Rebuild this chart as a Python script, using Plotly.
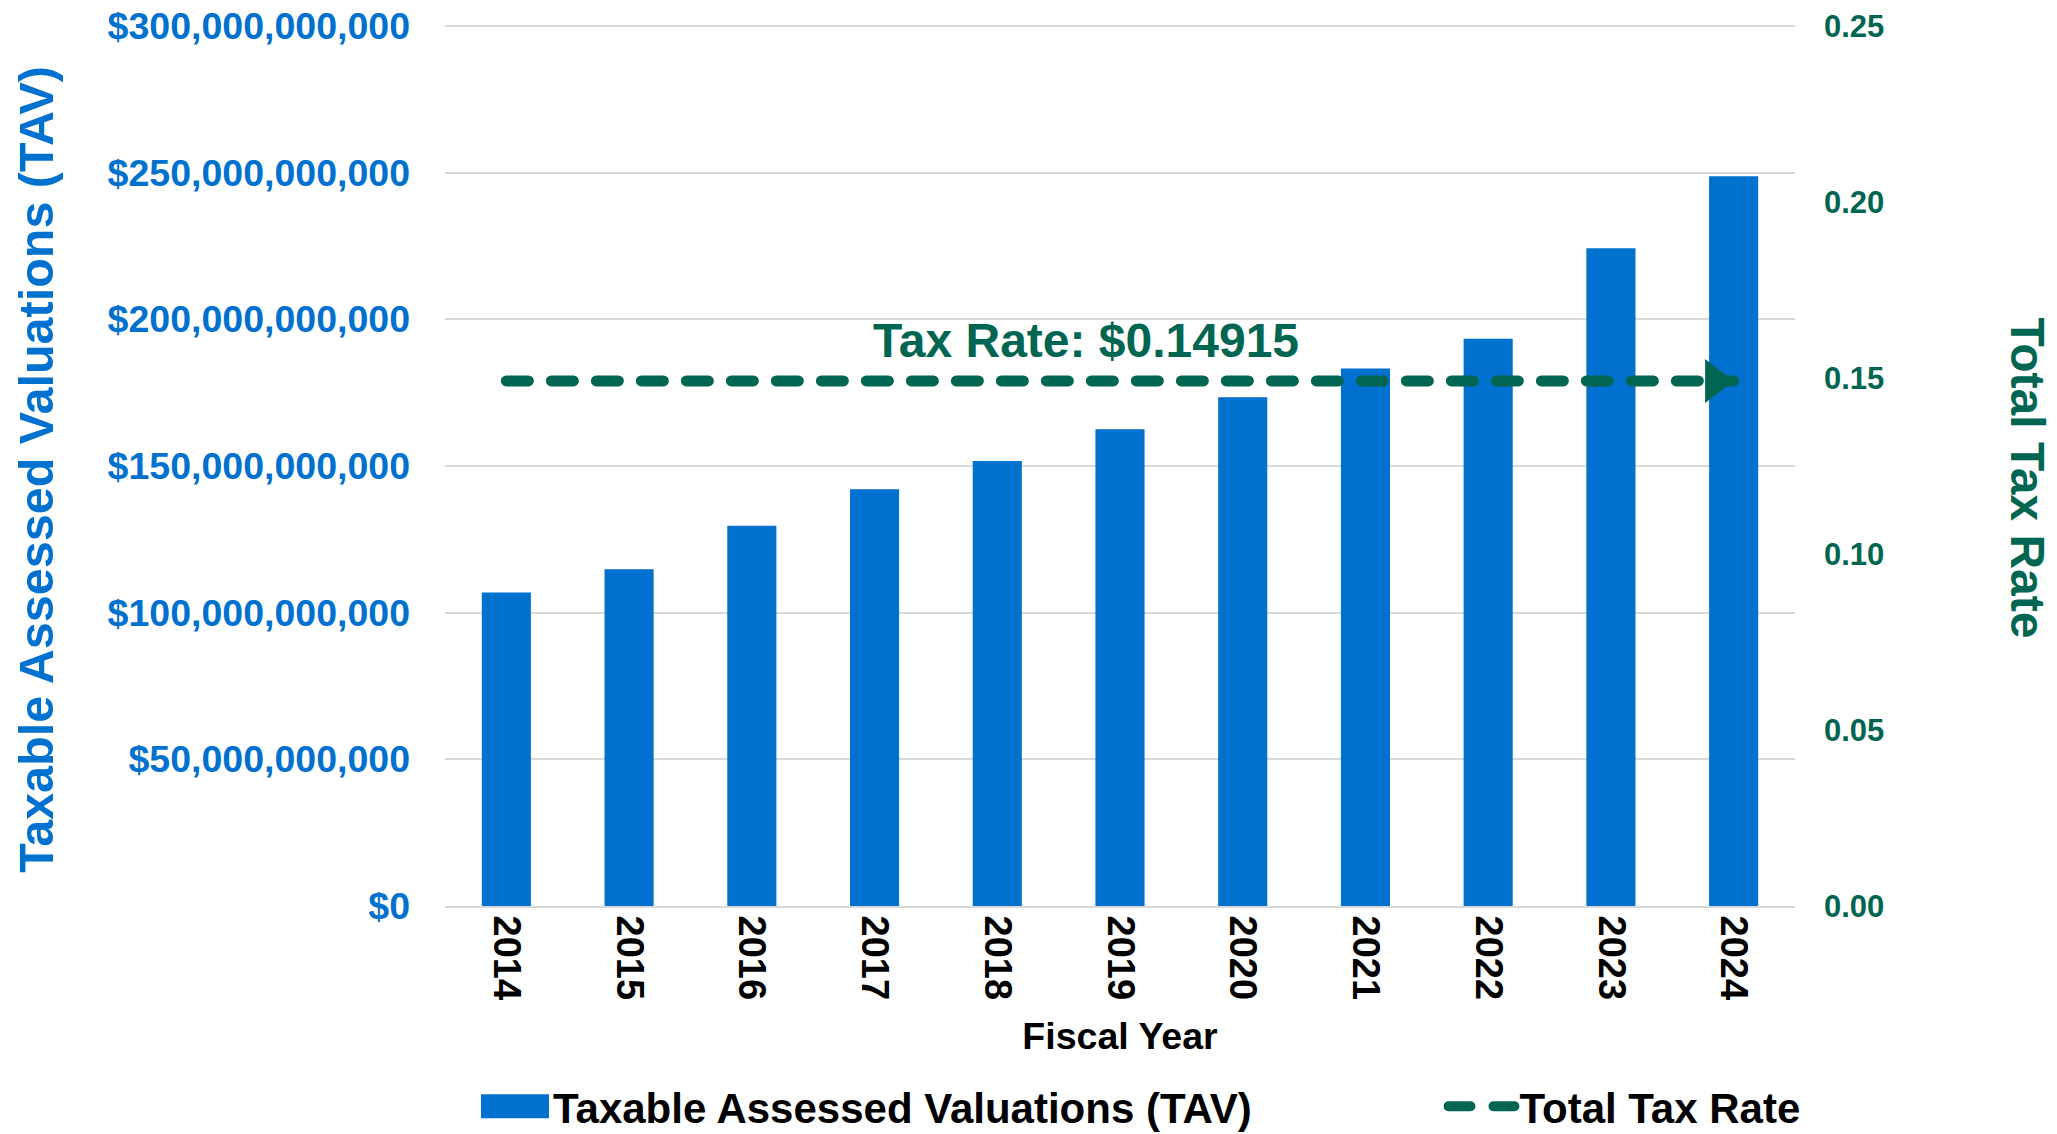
import plotly.graph_objects as go

# ---- data ----
years = ["2014", "2015", "2016", "2017", "2018", "2019", "2020", "2021", "2022", "2023", "2024"]
tav_values = [106.9e9, 114.8e9, 129.6e9, 142.1e9, 151.7e9, 162.5e9, 173.4e9, 183.2e9, 193.4e9, 224.2e9, 248.8e9]
tax_rate = [0.14915] * 11
rate_label = "Tax Rate: $0.14915"

BLUE = "#0071CE"
GREEN = "#006651"
GRID = "#D9D9D9"
FONT = "Liberation Sans"

# axis maxima (slightly above top tick so the top gridline is drawn)
Y1_MAX = 301e9
Y2_MAX = 0.25 * 301 / 300

fig = go.Figure()

fig.add_trace(go.Bar(
    x=years, y=tav_values, name="Taxable Assessed Valuations (TAV)",
    marker=dict(color=BLUE, line=dict(width=0)),
    yaxis="y", legend="legend",
))

fig.add_trace(go.Scatter(
    x=years, y=tax_rate, name="Total Tax Rate", mode="lines",
    line=dict(color=GREEN, width=11, dash="22px,23px"),
    yaxis="y2", legend="legend2",
))

# arrow head at the last point
fig.add_trace(go.Scatter(
    x=[years[-1]], y=[tax_rate[-1]], mode="markers", showlegend=False,
    marker=dict(symbol="triangle-up", size=38, angle=90, standoff=19, color=GREEN,
                line=dict(width=0)),
    yaxis="y2", hoverinfo="skip",
))

legend_common = dict(
    orientation="h", yanchor="middle", y=-0.227, xanchor="left",
    font=dict(family=FONT, size=42, color="black", weight="bold"),
    itemwidth=66, bgcolor="rgba(0,0,0,0)",
)

fig.update_layout(
    width=2057, height=1134,
    margin=dict(l=445, r=262, t=23, b=228, autoexpand=False),
    paper_bgcolor="white", plot_bgcolor="white",
    bargap=0.6,
    font=dict(family=FONT, weight="bold"),
    xaxis=dict(
        type="category", tickangle=90, range=[-0.5, len(years) - 0.5],
        tickfont=dict(family=FONT, size=38, color="black", weight="bold"),
        showline=True, linecolor=GRID, linewidth=2, showgrid=False, ticks="",
        title=dict(text="Fiscal Year", font=dict(family=FONT, size=37.5, color="black", weight="bold"), standoff=24),
    ),
    yaxis=dict(
        range=[0, Y1_MAX], tick0=0, dtick=50e9, tickprefix="$", tickformat=",",
        tickfont=dict(family=FONT, size=37.5, color=BLUE, weight="bold"),
        showgrid=True, gridcolor=GRID, gridwidth=2, zeroline=False,
        ticks="", ticklabelstandoff=34,
    ),
    yaxis2=dict(
        range=[0, Y2_MAX], tick0=0, dtick=0.05, tickformat=".2f", overlaying="y", side="right",
        tickfont=dict(family=FONT, size=31, color=GREEN, weight="bold"),
        showgrid=False, zeroline=False, ticks="", ticklabelstandoff=28,
    ),
    legend=dict(legend_common, x=0.0237),
    legend2=dict(legend_common, x=0.7396),
    annotations=[
        dict(text=rate_label, xref="paper", yref="paper", x=0.4748, y=0.64,
             showarrow=False, font=dict(family=FONT, size=48, color=GREEN, weight="bold"),
             xanchor="center", yanchor="middle"),
        dict(text="Taxable Assessed Valuations (TAV)", xref="paper", yref="paper",
             x=-0.303, y=0.495, textangle=-90, showarrow=False,
             font=dict(family=FONT, size=48.5, color=BLUE, weight="bold"),
             xanchor="center", yanchor="middle"),
        dict(text="Total Tax Rate", xref="paper", yref="paper",
             x=1.172, y=0.485, textangle=90, showarrow=False,
             font=dict(family=FONT, size=48, color=GREEN, weight="bold"),
             xanchor="center", yanchor="middle"),
    ],
)

post = """
document.body.style.margin = '0';
document.body.style.padding = '0';
var gd = document.getElementById('{plot_id}');
function fixStyles(){
  try {
    gd.querySelectorAll('.scatterlayer .js-line, .legendlines path').forEach(function(p){
      p.style.strokeLinecap = 'round';
    });
    gd.querySelectorAll('.legendpoints path').forEach(function(p){
      var d = p.getAttribute('d') || '';
      if (d.indexOf('M6,6H-6V-6H6Z') === 0) { p.setAttribute('d', 'M34,12H-34V-12H34Z'); }
    });
  } catch(e) {}
}
fixStyles();
gd.on('plotly_afterplot', fixStyles);
"""

fig.write_html("out.html", post_script=post, config={"displayModeBar": False})
